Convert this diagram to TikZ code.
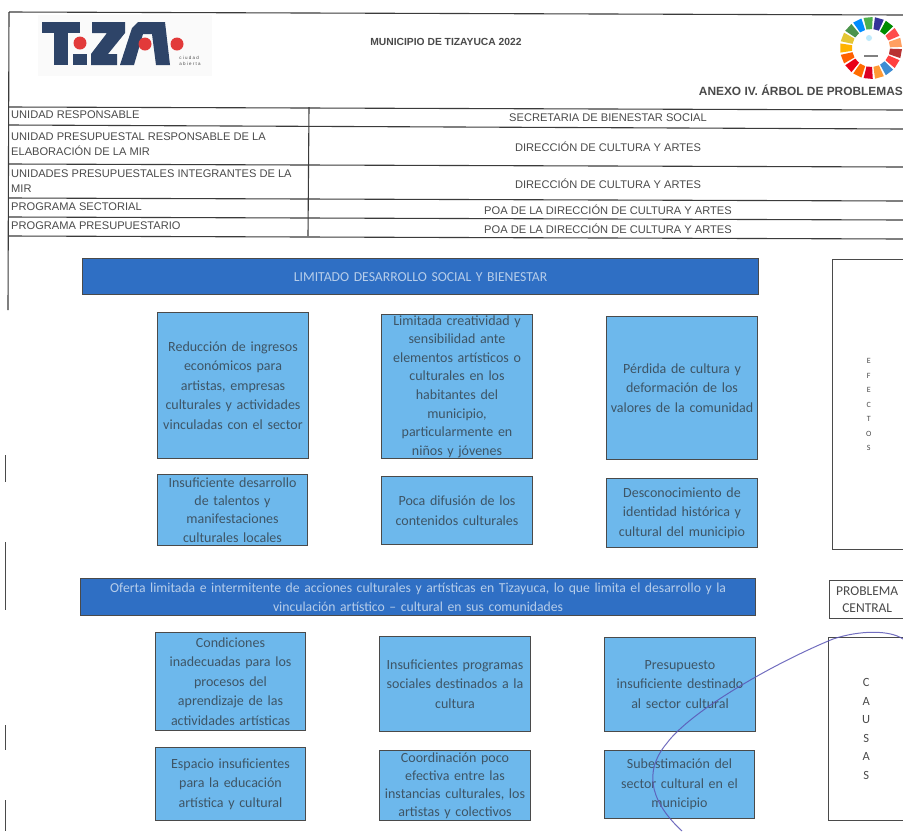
\documentclass[tikz,border=0pt]{standalone}
\usepackage{fontspec}
\setmainfont{Liberation Sans}
\newfontfamily\boxfont{Carlito}
\definecolor{bandblue}{HTML}{2F6FC4}
\definecolor{cellblue}{HTML}{6DB8EC}
\definecolor{inkgrey}{HTML}{4A4A4A}
\definecolor{txtbox}{HTML}{3E5566}
\definecolor{tizablue}{HTML}{2E4468}
\definecolor{tizared}{HTML}{E23A3A}
\definecolor{penblue}{HTML}{5A55B5}
\tikzset{
  band/.style={draw=inkgrey,line width=1.2pt,fill=bandblue,text=white!65!bandblue,align=center,inner sep=1pt,anchor=north west,font=\boxfont\fontsize{13.7}{19}\selectfont},
  cell/.style={draw=inkgrey,line width=1pt,fill=cellblue,text=txtbox,align=center,inner sep=0pt,anchor=north west,font=\boxfont\fontsize{14}{19.5}\selectfont},
  side/.style={draw=inkgrey,line width=1.4pt,fill=white,text=inkgrey,align=center,inner sep=0pt,anchor=north west,font=\boxfont\fontsize{13.5}{17}\selectfont},
  rule/.style={draw=inkgrey!80!black,line width=1.1pt},
  tick/.style={draw=inkgrey,line width=.8pt},
  lab/.style={text=inkgrey,anchor=west,align=left,inner sep=0pt,font=\fontsize{11.1}{14.5}\selectfont},
  val/.style={text=inkgrey,anchor=center,inner sep=0pt,font=\fontsize{11.1}{12}\selectfont},
  head/.style={text=inkgrey,inner sep=0pt,font=\bfseries\fontsize{10.3}{12}\selectfont},
  lg/.style={fill=tizablue,draw=none}
}
\newcommand{\wheelseg}[2]{\fill[#2] ($(871,48)+({#1*21.18+2}:31)$) -- ($(871,48)+({#1*21.18+19}:31)$) -- ($(871,48)+({#1*21.18+19}:19)$) -- ($(871,48)+({#1*21.18+2}:19)$) -- cycle;}
\usetikzlibrary{calc}
\begin{document}
\begin{tikzpicture}[x=1pt,y=-1pt]
\useasboundingbox (0,0) rectangle (903,831);
\fill[white] (0,0) rectangle (903,831);
% frame and table
\coordinate (tl) at (9,12); \coordinate (tr) at (903,15);
\draw[rule] (tl) -- (tr);
\draw[rule] (9,12) -- (8,310);
\draw[rule] (9,107) -- (903,110);
\draw[rule] (9,125) -- (903,129);
\draw[rule] (9,164) -- (903,167);
\draw[rule] (9,198) -- (903,201);
\draw[rule] (9,217) -- (903,220);
\draw[rule] (9,236) -- (903,239);
\draw[rule] (309,107) -- (308,236);
\draw[tick] (5,455) -- (5,482);
\draw[tick] (5,542) -- (5,610);
\draw[tick] (5,725) -- (5,750);
\draw[tick] (5,800) -- (5,831);
% logo
\fill[black!2] (38,15) rectangle (212,76);
\fill[lg] (42,22) rectangle (80,33); \fill[lg] (54,33) rectangle (68,65);
\fill[lg] (73,54) rectangle (87,65);
\fill[tizared] (80,43) circle[radius=6.5];
\fill[lg] (92,22) -- (125,22) -- (125,33) -- (108,54) -- (117,54) -- (117,65) -- (91,65) -- (91,54) -- (107,33) -- (92,33) -- cycle;
\fill[lg] (120,65) -- (132,28) -- (138,22) -- (165,22) -- (170,65) -- (156,65) -- (152,34) -- (143,34) -- (134,65) -- cycle;
\fill[tizared] (145,44) circle[radius=6.5];
\fill[tizared] (177,44) circle[radius=6.5];
\node[text=inkgrey,align=left,inner sep=0pt,font=\fontsize{4.5}{6.5}\selectfont] (lgt) at (190,61) {c i u d a d\\a b i e r t a};
% wheel
\foreach \i/\c in {0/red!65!black!80,1/red!75!white,2/cyan!60!blue!80,3/orange!80,4/red!45!purple,5/orange!85!red,6/red!65!purple,7/orange!75!red,8/orange!60!yellow,9/yellow!55!brown,10/green!40!black!70,11/blue!45!cyan,12/green!55!black!70,13/blue!50!black!80,14/green!55!black,15/red!70!white,16/orange!50!pink}{\wheelseg{\i}{\c}}
\fill[cyan!25] (869,38) circle[radius=3];
\fill[inkgrey!70] (864,55) rectangle (878,57);
% headings
\node[head] (mun) at (446,42) {MUNICIPIO DE TIZAYUCA 2022};
\node[head,anchor=east,font=\bfseries\fontsize{11.9}{13}\selectfont] (anx) at (903,90) {ANEXO IV. ÁRBOL DE PROBLEMAS};
% table text
\node[lab] (a1) at (11,115) {UNIDAD RESPONSABLE};
\node[lab] (a2) at (11,144) {UNIDAD PRESUPUESTAL RESPONSABLE DE LA\\ELABORACIÓN DE LA MIR};
\node[lab] (a3) at (11,181) {UNIDADES PRESUPUESTALES INTEGRANTES DE LA\\MIR};
\node[lab] (a4) at (11,207) {PROGRAMA SECTORIAL};
\node[lab] (a5) at (11,226) {PROGRAMA PRESUPUESTARIO};
\node[val] (b1) at (608,118) {SECRETARIA DE BIENESTAR SOCIAL};
\node[val] (b2) at (608,147) {DIRECCIÓN DE CULTURA Y ARTES};
\node[val] (b3) at (608,184) {DIRECCIÓN DE CULTURA Y ARTES};
\node[val] (b4) at (608,210) {POA DE LA DIRECCIÓN DE CULTURA Y ARTES};
\node[val] (b5) at (608,229) {POA DE LA DIRECCIÓN DE CULTURA Y ARTES};
% bands
\node[band,minimum width=676pt,minimum height=36pt,text width=670pt] (e0) at (82,258) {LIMITADO DESARROLLO SOCIAL Y BIENESTAR};
\node[band,minimum width=675pt,minimum height=37pt,text width=670pt] (p0) at (80,578) {Oferta limitada e intermitente de acciones culturales y artísticas en Tizayuca, lo que limita el desarrollo y la\\vinculación artístico – cultural en sus comunidades};
% cells
\node[cell,minimum width=151pt,minimum height=146pt,text width=149pt] (e1) at (157,312) {Reducción de ingresos\\económicos para\\artistas, empresas\\culturales y actividades\\vinculadas con el sector};
\node[cell,minimum width=151pt,minimum height=144pt,text width=149pt,font=\boxfont\fontsize{14}{18.6}\selectfont] (e2) at (381,314) {Limitada creatividad y\\sensibilidad ante\\elementos artísticos o\\culturales en los\\habitantes del\\municipio,\\particularmente en\\niños y jóvenes};
\node[cell,minimum width=151pt,minimum height=143pt,text width=149pt] (e3) at (606,316) {Pérdida de cultura y\\deformación de los\\valores de la comunidad};
\node[cell,minimum width=150pt,minimum height=71pt,text width=148pt,font=\boxfont\fontsize{14}{18.3}\selectfont] (e4) at (157,474) {Insuficiente desarrollo\\de talentos y\\manifestaciones\\culturales locales};
\node[cell,minimum width=151pt,minimum height=68pt,text width=149pt] (e5) at (381,476) {Poca difusión de los\\contenidos culturales};
\node[cell,minimum width=151pt,minimum height=69pt,text width=149pt] (e6) at (606,478) {Desconocimiento de\\identidad histórica y\\cultural del municipio};
\node[cell,minimum width=150pt,minimum height=98pt,text width=148pt] (c1) at (155,632) {Condiciones\\inadecuadas para los\\procesos del\\aprendizaje de las\\actividades artísticas};
\node[cell,minimum width=151pt,minimum height=95pt,text width=149pt] (c2) at (379,636) {Insuficientes programas\\sociales destinados a la\\cultura};
\node[cell,minimum width=151pt,minimum height=94pt,text width=149pt] (c3) at (604,637) {Presupuesto\\insuficiente destinado\\al sector cultural};
\node[cell,minimum width=150pt,minimum height=73pt,text width=148pt] (c4) at (155,747) {Espacio insuficientes\\para la educación\\artística y cultural};
\node[cell,minimum width=151pt,minimum height=70pt,text width=149pt,font=\boxfont\fontsize{14}{18}\selectfont] (c5) at (379,750) {Coordinación poco\\efectiva entre las\\instancias culturales, los\\artistas y colectivos};
\node[cell,minimum width=150pt,minimum height=68pt,text width=148pt] (c6) at (604,750) {Subestimación del\\sector cultural en el\\municipio};
% side boxes
\node[side,minimum width=72pt,minimum height=290pt,text width=70pt,font=\boxfont\fontsize{8}{14.5}\selectfont] (se) at (832,259) {E\\F\\E\\C\\T\\O\\S};
\node[side,minimum width=75pt,minimum height=38pt,text width=73pt] (sp) at (829,580) {PROBLEMA\\CENTRAL};
\node[side,minimum width=75pt,minimum height=183pt,text width=73pt,font=\boxfont\fontsize{12.5}{18.5}\selectfont] (sc) at (828,637) {C\\A\\U\\S\\A\\S};
% pen stroke
\draw[penblue,line width=1pt,opacity=.85] (682,831) .. controls (655,806) and (640,775) .. (667,743) .. controls (690,712) and (770,665) .. (833,639) .. controls (860,630) and (890,630) .. (903,639);
\end{tikzpicture}
\end{document}
